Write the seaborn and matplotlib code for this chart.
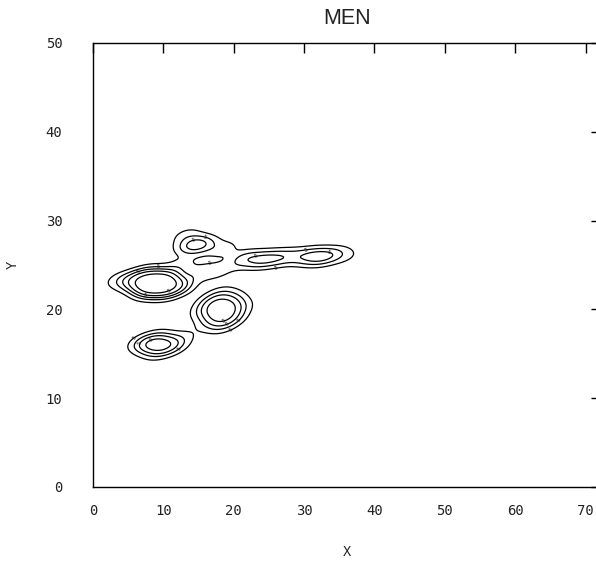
import numpy as np
import pandas as pd
import matplotlib
matplotlib.use('Agg')
import matplotlib.pyplot as plt
import seaborn as sns

# estimated sample locations and weights, read off the picture cluster by cluster
a_x = [3.5, 5.0, 6.5, 8.0, 9.5, 11.0, 12.5, 7.5, 10.0, 8.0, 10.5]
a_y = [23.4, 23.3, 23.2, 23.0, 22.8, 22.6, 22.5, 24.0, 23.7, 22.0, 21.8]
a_w = [0.3, 0.5, 0.9, 2.4, 2.7, 1.2, 0.6, 0.8, 0.8, 0.6, 0.5]

b_x = [18.2, 17.0, 19.4, 17.2, 19.4, 16.0, 20.6, 18.2, 18.2]
b_y = [19.9, 20.8, 19.0, 18.8, 21.0, 19.8, 20.2, 21.8, 18.0]
b_w = [1.5, 0.9, 0.9, 0.7, 0.7, 0.5, 0.5, 0.4, 0.4]

c_x = [8.5, 10.0, 7.0, 11.5, 12.8, 9.2, 9.2]
c_y = [16.1, 15.9, 16.3, 15.8, 16.9, 15.0, 17.0]
c_w = [1.2, 1.0, 0.5, 0.5, 0.3, 0.3, 0.3]

band_x = [14.0, 15.5, 13.2, 18.5, 21.5, 24.0, 26.5, 29.0, 31.0, 32.8, 34.8, 36.5,
          15.5, 18.0, 12.5]
band_y = [27.3, 27.2, 28.4, 26.8, 25.7, 25.6, 25.8, 26.0, 26.0, 25.9, 26.2, 25.9,
          24.2, 24.3, 25.0]
band_w = [0.9, 0.8, 0.4, 0.5, 0.8, 1.0, 0.8, 0.5, 0.8, 0.9, 0.4, 0.2,
          0.5, 0.4, 0.4]

x_ticks = [0, 10, 20, 30, 40, 50, 60, 70]
y_ticks = [0, 10, 20, 30, 40, 50]
contour_levels = [0.1, 0.28, 0.46, 0.64, 0.82]

df = pd.DataFrame({'X': a_x + b_x + c_x + band_x,
                   'Y': a_y + b_y + c_y + band_y,
                   'w': a_w + b_w + c_w + band_w})

sns.set_style('white')
fig = plt.figure(figsize=(5.96, 5.62), dpi=100)
ax = fig.add_axes([93 / 596, 75 / 562, 508 / 596, 444 / 562])

sns.kdeplot(data=df, x='X', y='Y', weights='w', bw_adjust=0.38,
            levels=contour_levels, color='black', linewidths=0.9, ax=ax)

cs = ax.collections[-1]
ax.clabel(cs, fontsize=3.5, fmt=lambda v: '5', inline=False, colors='black')

ax.set_xlim(0, 72.2)
ax.set_ylim(0, 50)
ax.set_xticks(x_ticks)
ax.set_yticks(y_ticks)
for sp in ax.spines.values():
    sp.set_color('black')
    sp.set_linewidth(1)
ax.tick_params(direction='in', length=7.5, width=1, color='black',
               top=True, right=True, labelsize=10)
ax.tick_params(axis='x', pad=12)
ax.tick_params(axis='y', pad=22)
for lab in ax.get_xticklabels() + ax.get_yticklabels():
    lab.set_family('DejaVu Sans Mono')
    lab.set_color('#222222')

ax.set_xlabel('X', family='Liberation Mono', fontsize=10, labelpad=20)
ax.set_ylabel('Y', family='Liberation Mono', fontsize=10, labelpad=19)
ax.set_title('MEN', family='Liberation Sans', fontsize=15.5, pad=14,
             color='#222222')

fig.savefig('out.png', dpi=100)
